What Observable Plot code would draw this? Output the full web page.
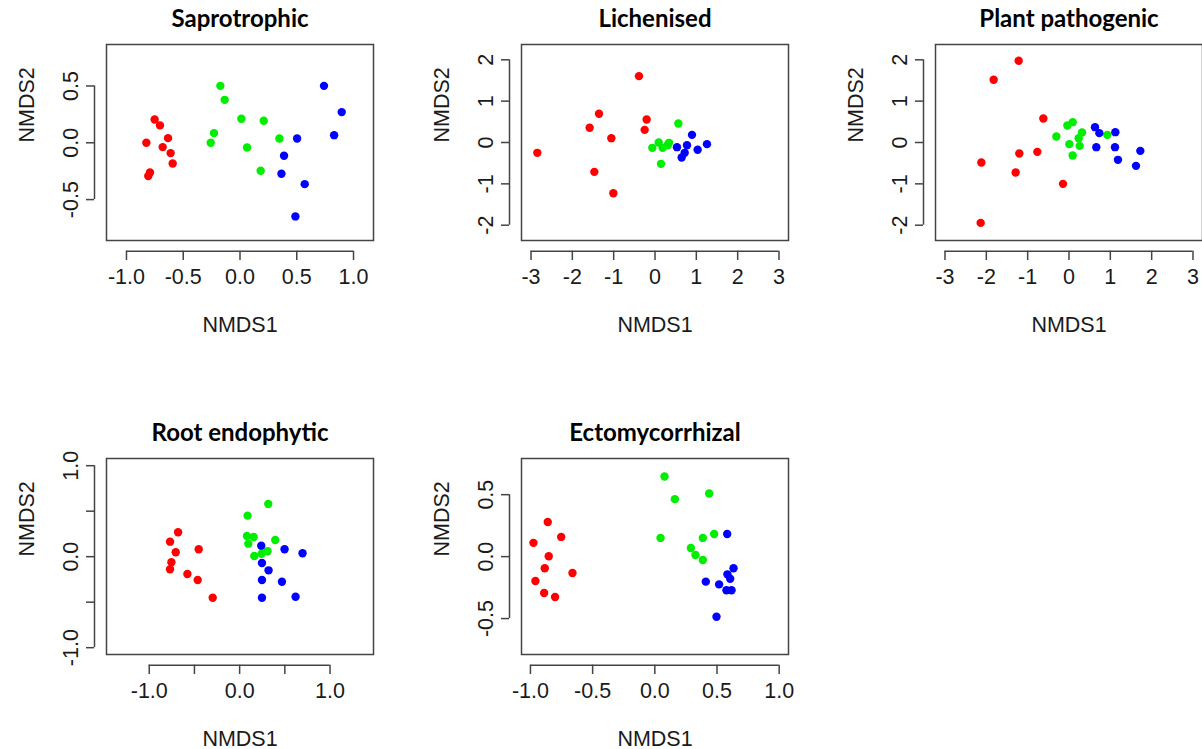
<!DOCTYPE html>
<html><head><meta charset="utf-8">
<script src="https://cdn.jsdelivr.net/npm/d3@7"></script>
<script src="https://cdn.jsdelivr.net/npm/@observablehq/plot@0.6"></script>
<style>
html,body{margin:0;padding:0;background:#fff;}
body{width:1202px;height:749px;overflow:hidden;position:relative;}
.panel{position:absolute;}
</style></head><body>
<script>
// ---- data ----
const titles = ["Saprotrophic", "Lichenised", "Plant pathogenic", "Root endophytic", "Ectomycorrhizal"];
const groupColors = ["#ff0000", "#00ee00", "#0000ff"];

const saproRed = [[-0.825,0],[-0.752,0.205],[-0.705,0.153],[-0.634,0.041],[-0.681,-0.038],[-0.611,-0.091],[-0.593,-0.182],[-0.793,-0.261],[-0.808,-0.293]];
const saproGreen = [[-0.173,0.501],[-0.135,0.378],[-0.229,0.085],[-0.258,0],[0.012,0.211],[0.209,0.194],[0.062,-0.041],[0.347,0.038],[0.182,-0.246]];
const saproBlue = [[0.740,0.501],[0.896,0.270],[0.829,0.067],[0.503,0.038],[0.388,-0.114],[0.365,-0.273],[0.570,-0.364],[0.488,-0.648]];

const lichenRed = [[-2.847,-0.25],[-0.387,1.605],[-1.355,0.694],[-1.581,0.355],[-1.056,0.105],[-1.468,-0.71],[-1.008,-1.226],[-0.202,0.556],[-0.25,0.306]];
const lichenGreen = [[0.565,0.46],[-0.065,-0.129],[0.089,0],[0.185,-0.129],[0.306,-0.065],[0.339,-0.008],[0.145,-0.516]];
const lichenBlue = [[0.895,0.185],[0.532,-0.113],[0.774,-0.065],[1.258,-0.04],[1.032,-0.177],[0.718,-0.25],[0.645,-0.363]];

const plantRed = [[-1.218,1.976],[-1.823,1.516],[-0.621,0.581],[-0.766,-0.226],[-1.202,-0.266],[-2.121,-0.484],[-1.29,-0.726],[-0.145,-1.0],[-2.137,-1.944]];
const plantGreen = [[-0.306,0.145],[-0.04,0.411],[0.089,0.492],[0.315,0.242],[0.234,0.105],[0.258,-0.081],[0.008,-0.04],[0.089,-0.315],[0.927,0.185]];
const plantBlue = [[0.629,0.371],[0.734,0.226],[1.121,0.25],[0.661,-0.113],[1.113,-0.113],[1.185,-0.419],[1.726,-0.202],[1.621,-0.565]];

const rootRed = [[-0.681,0.268],[-0.77,0.165],[-0.707,0.048],[-0.755,-0.062],[-0.77,-0.139],[-0.578,-0.191],[-0.453,0.081],[-0.464,-0.257],[-0.298,-0.451]];
const rootGreen = [[0.317,0.58],[0.088,0.451],[0.081,0.228],[0.155,0.217],[0.096,0.143],[0.394,0.183],[0.162,0.007],[0.243,0.033],[0.309,0.059]];
const rootBlue = [[0.239,0.121],[0.497,0.081],[0.696,0.037],[0.247,-0.07],[0.32,-0.15],[0.247,-0.257],[0.468,-0.275],[0.247,-0.451],[0.619,-0.44]];

const ectoRed = [[-0.976,0.111],[-0.861,0.28],[-0.753,0.159],[-0.853,0.003],[-0.885,-0.094],[-0.96,-0.197],[-0.662,-0.132],[-0.89,-0.294],[-0.802,-0.326]];
const ectoGreen = [[0.078,0.647],[0.161,0.464],[0.437,0.509],[0.046,0.151],[0.386,0.151],[0.477,0.183],[0.29,0.07],[0.327,0.013],[0.386,-0.027]];
const ectoBlue = [[0.582,0.183],[0.633,-0.094],[0.584,-0.143],[0.606,-0.178],[0.41,-0.202],[0.517,-0.224],[0.576,-0.272],[0.617,-0.272],[0.496,-0.485]];

// axis limits
const xLims = [[-1.176,1.176],[-3.23,3.23],[-3.23,3.23],[-1.473,1.481],[-1.072,1.075]];
const yLims = [[-0.86,0.865],[-2.37,2.37],[-2.37,2.37],[-1.075,1.079],[-0.79,0.792]];

// ticks and tick labels
const ticksHalf = [-1, -0.5, 0, 0.5, 1];
const labelsHalf = ["-1.0", "-0.5", "0.0", "0.5", "1.0"];
const ticksSmall = [-0.5, 0, 0.5];
const labelsSmall = ["-0.5", "0.0", "0.5"];
const ticksInt = [-3, -2, -1, 0, 1, 2, 3];
const labelsInt = ["-3", "-2", "-1", "0", "1", "2", "3"];
const ticksInt2 = [-2, -1, 0, 1, 2];
const labelsInt2 = ["-2", "-1", "0", "1", "2"];
const ticksRootLab = [-1, 0, 1];
const labelsRoot = ["-1.0", "0.0", "1.0"];

const xLabel = "NMDS1";
const yLabel = "NMDS2";

const panels = [
  {title: titles[0], groups: [saproRed, saproGreen, saproBlue], xlim: xLims[0], ylim: yLims[0],
   xTicks: ticksHalf, xLabVals: ticksHalf, xLabs: labelsHalf, yTicks: ticksSmall, yLabVals: ticksSmall, yLabs: labelsSmall, left: 0, top: 0},
  {title: titles[1], groups: [lichenRed, lichenGreen, lichenBlue], xlim: xLims[1], ylim: yLims[1],
   xTicks: ticksInt, xLabVals: ticksInt, xLabs: labelsInt, yTicks: ticksInt2, yLabVals: ticksInt2, yLabs: labelsInt2, left: 414.7, top: 0},
  {title: titles[2], groups: [plantRed, plantGreen, plantBlue], xlim: xLims[2], ylim: yLims[2],
   xTicks: ticksInt, xLabVals: ticksInt, xLabs: labelsInt, yTicks: ticksInt2, yLabVals: ticksInt2, yLabs: labelsInt2, left: 829, top: 0},
  {title: titles[3], groups: [rootRed, rootGreen, rootBlue], xlim: xLims[3], ylim: yLims[3],
   xTicks: ticksHalf, xLabVals: ticksRootLab, xLabs: labelsRoot, yTicks: ticksHalf, yLabVals: ticksRootLab, yLabs: labelsRoot, left: 0, top: 413.7},
  {title: titles[4], groups: [ectoRed, ectoGreen, ectoBlue], xlim: xLims[4], ylim: yLims[4],
   xTicks: ticksHalf, xLabVals: ticksHalf, xLabs: labelsHalf, yTicks: ticksSmall, yLabVals: ticksSmall, yLabs: labelsSmall, left: 414.7, top: 413.7}
];

const axisColor = "#444";
const textColor = "#1a1a1a";
const fontMain = "'Liberation Sans', Arial, sans-serif";

for (const p of panels) {
  const xLabData = p.xLabVals.map((v, i) => ({v, s: p.xLabs[i]}));
  const yLabData = p.yLabVals.map((v, i) => ({v, s: p.yLabs[i]}));
  const chart = Plot.plot({
    width: 402, height: 350,
    marginLeft: 106, marginRight: 29, marginTop: 44, marginBottom: 110,
    x: {domain: p.xlim, axis: null},
    y: {domain: p.ylim, axis: null},
    style: {fontFamily: fontMain, fontSize: "21.5px", color: textColor, background: "transparent", overflow: "visible"},
    marks: [
      Plot.frame({stroke: axisColor, strokeWidth: 1.5}),
      Plot.ruleY([p.ylim[0]], {x1: p.xTicks[0], x2: p.xTicks[p.xTicks.length - 1], dy: 10.7, stroke: axisColor, strokeWidth: 1.5}),
      Plot.axisX(p.xTicks, {anchor: "bottom", tickSize: 9.3, dy: 10.7, fill: "none", stroke: axisColor, strokeWidth: 1.5, label: null}),
      Plot.ruleX([p.xlim[0]], {y1: p.yTicks[0], y2: p.yTicks[p.yTicks.length - 1], dx: -12, stroke: axisColor, strokeWidth: 1.5}),
      Plot.axisY(p.yTicks, {anchor: "left", tickSize: 8, dx: -12, fill: "none", stroke: axisColor, strokeWidth: 1.5, label: null}),
      Plot.text(xLabData, {x: "v", text: "s", frameAnchor: "bottom", dy: 43.3, lineAnchor: "bottom", fill: textColor}),
      Plot.text(yLabData, {y: "v", text: "s", frameAnchor: "left", rotate: -90, dx: -28.7, lineAnchor: "bottom", textAnchor: "middle", fill: textColor}),
      Plot.text([xLabel], {text: d => d, frameAnchor: "bottom", dy: 91.7, lineAnchor: "bottom", fill: textColor}),
      Plot.text([yLabel], {text: d => d, frameAnchor: "left", rotate: -90, dx: -73, lineAnchor: "bottom", fill: textColor}),
      Plot.text([p.title], {text: d => d, frameAnchor: "top", dy: -18, lineAnchor: "bottom", fontWeight: "bold", fontFamily: "Lato, 'Open Sans', sans-serif", fontSize: 24, fill: "#000"}),
      ...p.groups.map((g, gi) => Plot.dot(g, {x: d => d[0], y: d => d[1], r: 4.2, fill: groupColors[gi], stroke: "none"}))
    ]
  });
  chart.classList.add("panel");
  chart.style.left = p.left + "px";
  chart.style.top = p.top + "px";
  document.body.appendChild(chart);
}
</script>
</body></html>
